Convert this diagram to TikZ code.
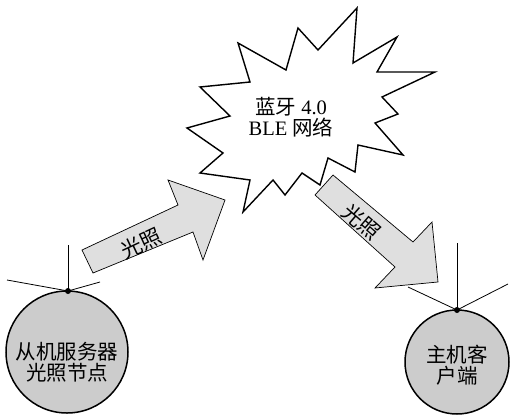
\documentclass[tikz,border=0pt]{standalone}
\usepackage{fontspec}
\setmainfont{Liberation Serif}
\newfontfamily\cjk{Noto Sans CJK SC}
\begin{document}
\begin{tikzpicture}[x=1pt,y=-1pt,
  client/.style={circle,draw,line width=1.5pt,fill=gray!40,inner sep=0pt},
  ctext/.style={align=center,inner sep=0pt,font=\cjk\fontsize{20.5}{21}\selectfont},
  blockarrow/.style={draw,line width=0.7pt,fill=gray!25,line join=miter},
  starshape/.style={draw,line width=1.4pt,line join=miter,fill=white},
  stext/.style={align=center,inner sep=0pt,font=\fontsize{20.5}{21}\selectfont},
  antenna/.style={line width=0.8pt},
  lbl/.style={font=\cjk\fontsize{21}{22}\selectfont,inner sep=0pt}]
\useasboundingbox (0,0) rectangle (510,417);

% star burst (BLE network)
\draw[starshape] (200,87) -- (250,82) -- (238,43) -- (286,70) -- (298,28) -- (318,50)
  -- (357,8) -- (353,63) -- (397,37) -- (377,72) -- (435,72) -- (382,97) -- (398,114)
  -- (375,123) -- (403,155) -- (358,145) -- (355,172) -- (328,158) -- (320,185)
  -- (302,173) -- (285,195) -- (273,180) -- (243,212) -- (250,180) -- (200,173)
  -- (223,153) -- (187,128) -- (230,116) -- cycle;
\node[stext] (net) at (291,117) {{\cjk 蓝牙} 4.0\\BLE {\cjk 网络}};

% block arrows
\draw[blockarrow] (82,250) -- (178,205) -- (168,180) -- (225,200) -- (203,260) -- (193,232) -- (93,273) -- cycle;
\node[lbl,rotate=25] (light1) at (141,243) {光照};
\draw[blockarrow] (333,175) -- (413,242) -- (432,222) -- (438,282) -- (375,288) -- (395,267) -- (315,195) -- cycle;
\node[lbl,rotate=-41] (light2) at (362,222) {光照};

% slave node
\node[client,minimum size=122pt] (slave) at (67,352) {};
\node[ctext] (slavetext) at (67,362) {从机服务器\\光照节点};
\coordinate (sdot) at (68,291);
\coordinate (sa1) at (68,245);
\coordinate (sa2) at (7,280);
\coordinate (sa3) at (100,282);
\draw[antenna] (sdot) -- (sa1);
\draw[antenna] (sdot) -- (sa2);
\draw[antenna] (sdot) -- (sa3);
\fill (sdot) circle (3pt);

% master node
\node[client,minimum size=104pt] (master) at (457,362) {};
\node[ctext] (mastertext) at (457,365) {主机客\\户端};
\coordinate (mdot) at (457,310);
\coordinate (ma1) at (457,243);
\coordinate (ma2) at (408,287);
\coordinate (ma3) at (508,284);
\draw[antenna] (mdot) -- (ma1);
\draw[antenna] (mdot) -- (ma2);
\draw[antenna] (mdot) -- (ma3);
\fill (mdot) circle (3pt);
\end{tikzpicture}
\end{document}
